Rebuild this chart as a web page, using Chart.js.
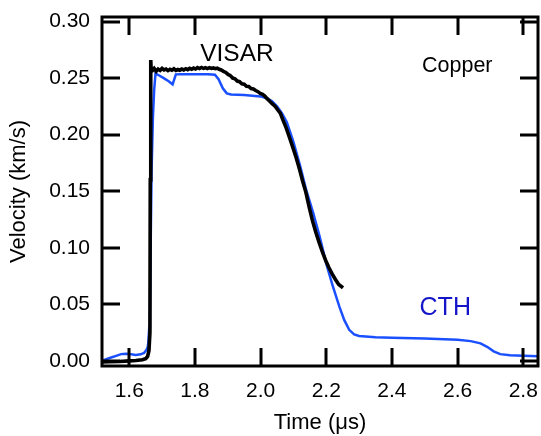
<!DOCTYPE html>
<html>
<head>
<meta charset="utf-8">
<script src="https://cdn.jsdelivr.net/npm/chart.js@4.4.1/dist/chart.umd.min.js"></script>
<style>
  html, body { margin: 0; padding: 0; background: #fff; }
  #wrap { width: 541px; height: 436px; }
</style>
</head>
<body>
<div id="wrap"><canvas id="c" width="541" height="436"></canvas></div>
<script>
// ---- data ----
const xTicks = [1.6, 1.8, 2.0, 2.2, 2.4, 2.6, 2.8];
const yTicks = [0.00, 0.05, 0.10, 0.15, 0.20, 0.25, 0.30];

const cthTime = [1.517, 1.530, 1.545, 1.560, 1.575, 1.590, 1.605, 1.620, 1.635, 1.645, 1.652, 1.656, 1.658, 1.661, 1.663, 1.665, 1.668, 1.672, 1.676, 1.680,
  1.690, 1.705, 1.720, 1.732, 1.742, 1.760, 1.800, 1.840, 1.861, 1.872, 1.885, 1.897, 1.910, 1.950, 2.000, 2.020, 2.035, 2.050, 2.065, 2.080,
  2.100, 2.120, 2.140, 2.160, 2.180, 2.200, 2.220, 2.240, 2.255, 2.270, 2.285, 2.300, 2.350, 2.400, 2.500, 2.600, 2.640, 2.670, 2.690, 2.710,
  2.730, 2.760, 2.800, 2.845];
const cthVel = [0.0000, 0.0015, 0.0030, 0.0045, 0.0060, 0.0064, 0.0058, 0.0052, 0.0058, 0.0070, 0.0095, 0.0120, 0.0160, 0.0300, 0.0400, 0.0980, 0.1680, 0.2150, 0.2400, 0.2540,
  0.2525, 0.2500, 0.2472, 0.2445, 0.2533, 0.2535, 0.2535, 0.2533, 0.2530, 0.2490, 0.2410, 0.2365, 0.2355, 0.2350, 0.2338, 0.2320, 0.2295, 0.2250, 0.2190, 0.2110,
  0.1936, 0.1730, 0.1500, 0.1310, 0.1100, 0.0860, 0.0660, 0.0480, 0.0360, 0.0275, 0.0235, 0.0220, 0.0210, 0.0205, 0.0198, 0.0188, 0.0175, 0.0155, 0.0125, 0.0085,
  0.0060, 0.0050, 0.0045, 0.0042];

const visarTime = [1.517, 1.540, 1.570, 1.600, 1.620, 1.640, 1.650, 1.656, 1.660, 1.663, 1.664, 1.6655, 1.667,
  1.670, 1.676, 1.682, 1.688, 1.694, 1.700, 1.706, 1.712, 1.718, 1.724, 1.730, 1.736, 1.742, 1.748, 1.754, 1.760, 1.766, 1.772,
  1.778, 1.784, 1.790, 1.796, 1.802, 1.808, 1.814, 1.820, 1.826, 1.832, 1.838, 1.844, 1.850, 1.856, 1.862, 1.868, 1.874, 1.880,
  1.887, 1.894, 1.901, 1.908, 1.915, 1.922, 1.929, 1.936, 1.943, 1.950, 1.957, 1.964, 1.971, 1.978, 1.985, 1.992, 1.999, 2.006,
  2.013, 2.020, 2.028, 2.036, 2.044, 2.052, 2.060, 2.068, 2.078, 2.088, 2.098, 2.108, 2.118, 2.128, 2.138, 2.148, 2.158, 2.168,
  2.178, 2.188, 2.198, 2.208, 2.218, 2.228, 2.238, 2.245, 2.251];
const visarVel = [-0.0010, -0.0008, -0.0005, 0.0000, 0.0003, 0.0010, 0.0020, 0.0040, 0.0090, 0.0250, 0.1600, 0.2660, 0.2560,
  0.2565, 0.2585, 0.2560, 0.2580, 0.2568, 0.2585, 0.2572, 0.2580, 0.2566, 0.2578, 0.2570, 0.2582, 0.2568, 0.2576, 0.2570, 0.2580, 0.2572, 0.2583,
  0.2575, 0.2586, 0.2578, 0.2588, 0.2580, 0.2592, 0.2584, 0.2594, 0.2586, 0.2592, 0.2584, 0.2592, 0.2585, 0.2590, 0.2583, 0.2588, 0.2578, 0.2572,
  0.2560, 0.2550, 0.2532, 0.2522, 0.2500, 0.2494, 0.2474, 0.2468, 0.2450, 0.2446, 0.2428, 0.2426, 0.2408, 0.2404, 0.2390, 0.2380, 0.2364, 0.2356,
  0.2340, 0.2318, 0.2296, 0.2272, 0.2252, 0.2220, 0.2190, 0.2130, 0.2060, 0.1975, 0.1890, 0.1800, 0.1700, 0.1590, 0.1490, 0.1360, 0.1240, 0.1140,
  0.1050, 0.0965, 0.0890, 0.0825, 0.0770, 0.0720, 0.0675, 0.0660, 0.0645];

const xRange = [1.517, 2.845];
const yRange = [-0.0045, 0.304];

const labels = [
  { text: 'VISAR', x: 1.928, y: 0.2712, color: '#000000', size: 24.5 },
  { text: 'Copper', x: 2.599, y: 0.2610, color: '#000000', size: 21.5 },
  { text: 'CTH', x: 2.5625, y: 0.0469, color: '#1414c8', size: 25 }
];

const FONT = 'Arial, "Liberation Sans", Helvetica, sans-serif';

function toPts(xs, ys) { return xs.map((x, i) => ({ x: x, y: ys[i] })); }

const framePlugin = {
  id: 'frame',
  afterDatasetsDraw(chart) {
    const { ctx, chartArea: a, scales } = chart;
    ctx.save();
    ctx.strokeStyle = '#000';
    ctx.lineWidth = 3;
    ctx.lineCap = 'butt';
    const tl = 18;
    ctx.beginPath();
    xTicks.forEach(v => {
      const px = Math.round(scales.x.getPixelForValue(v));
      ctx.moveTo(px, a.bottom); ctx.lineTo(px, a.bottom - tl);
      ctx.moveTo(px, a.top); ctx.lineTo(px, a.top + tl);
    });
    yTicks.forEach(v => {
      const py = Math.round(scales.y.getPixelForValue(v));
      ctx.moveTo(a.left, py); ctx.lineTo(a.left + tl, py);
      ctx.moveTo(a.right, py); ctx.lineTo(a.right - tl, py);
    });
    ctx.stroke();
    ctx.strokeRect(a.left, a.top, a.right - a.left, a.bottom - a.top);
    // annotations
    labels.forEach(l => {
      ctx.fillStyle = l.color;
      ctx.font = l.size + 'px ' + FONT;
      ctx.textAlign = 'center';
      ctx.textBaseline = 'middle';
      ctx.fillText(l.text, scales.x.getPixelForValue(l.x), scales.y.getPixelForValue(l.y));
    });
    ctx.restore();
  }
};

new Chart(document.getElementById('c'), {
  type: 'scatter',
  data: {
    datasets: [
      { label: 'CTH', data: toPts(cthTime, cthVel), showLine: true, borderColor: '#1a50ff', borderWidth: 2.5, pointRadius: 0, tension: 0, order: 2 },
      { label: 'VISAR', data: toPts(visarTime, visarVel), showLine: true, borderColor: '#000000', borderWidth: 3.6, pointRadius: 0, tension: 0, order: 1 }
    ]
  },
  options: {
    responsive: false,
    animation: false,
    devicePixelRatio: 1,
    layout: { padding: { left: 0, right: 3, top: 17, bottom: 0 } },
    plugins: { legend: { display: false }, tooltip: { enabled: false } },
    scales: {
      x: {
        type: 'linear', min: xRange[0], max: xRange[1],
        afterBuildTicks(s) { s.ticks = xTicks.map(v => ({ value: v })); },
        afterFit(s) { s.height = 70; s.paddingLeft = 0; s.paddingRight = 0; },
        grid: { display: false, drawTicks: false },
        border: { display: false },
        ticks: { color: '#000', font: { family: FONT, size: 21 }, padding: 13, maxRotation: 0, autoSkip: false,
          callback: v => Number(v).toFixed(1) },
        title: { display: true, text: 'Time (μs)', color: '#000', font: { family: FONT, size: 22 }, padding: { top: 0, bottom: 0 } }
      },
      y: {
        type: 'linear', min: yRange[0], max: yRange[1],
        afterBuildTicks(s) { s.ticks = yTicks.map(v => ({ value: v })); },
        afterFit(s) { s.width = 102; s.paddingTop = 0; s.paddingBottom = 0; },
        grid: { display: false, drawTicks: false },
        border: { display: false },
        ticks: { color: '#000', font: { family: FONT, size: 21 }, padding: 12, autoSkip: false,
          callback: v => Number(v).toFixed(2) },
        title: { display: true, text: 'Velocity (km/s)', color: '#000', font: { family: FONT, size: 22 }, padding: { top: 6, bottom: 0 } }
      }
    }
  },
  plugins: [framePlugin]
});
</script>
</body>
</html>
